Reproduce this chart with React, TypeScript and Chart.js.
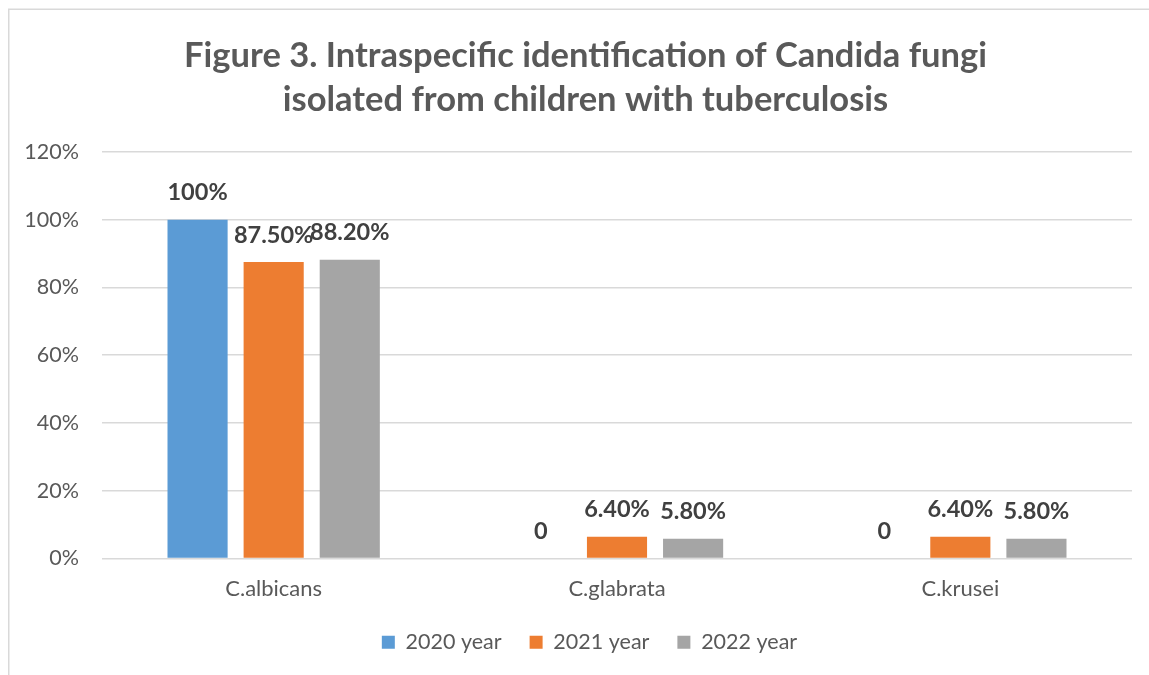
import React, { useEffect, useRef } from "react";
import { Chart, registerables } from "chart.js";

Chart.register(...registerables);

const categories = ["C.albicans", "C.glabrata", "C.krusei"];
const seriesNames = ["2020 year", "2021 year", "2022 year"];
const values2020 = [100, 0, 0];
const values2021 = [87.5, 6.4, 6.4];
const values2022 = [88.2, 5.8, 5.8];
const labels2020 = ["100%", "0", "0"];
const labels2021 = ["87.50%", "6.40%", "6.40%"];
const labels2022 = ["88.20%", "5.80%", "5.80%"];
const titleLines = [
  "Figure 3. Intraspecific identification of Candida fungi",
  "isolated from children with tuberculosis",
];

const FONT = "Lato, 'Open Sans', sans-serif";
const TEXT = "#595959";

const frame = {
  id: "frame",
  beforeDraw(chart: any) {
    const ctx = chart.ctx;
    ctx.save();
    ctx.fillStyle = "#ffffff";
    ctx.fillRect(0, 0, chart.width, chart.height);
    ctx.strokeStyle = "#D9D9D9";
    ctx.lineWidth = 1.5;
    ctx.strokeRect(8.75, 9.25, chart.width + 20, chart.height + 20);
    ctx.restore();
  },
};

const layoutTweaks = {
  id: "layoutTweaks",
  afterLayout(chart: any) {
    if (chart.titleBlock) {
      chart.titleBlock.left = 39;
      chart.titleBlock.right = chart.chartArea.right;
    }
    if (chart.legend) {
      chart.legend.left = 47;
      chart.legend.right = chart.chartArea.right;
    }
    if (chart.scales.x) {
      chart.scales.x._computeLabelArea = () => undefined;
    }
  },
};

const dataLabels = {
  id: "dataLabels",
  afterDatasetsDraw(chart: any) {
    const ctx = chart.ctx;
    ctx.save();
    ctx.font = `bold 23.5px ${FONT}`;
    ctx.fillStyle = "#404040";
    ctx.textAlign = "center";
    ctx.textBaseline = "middle";
    chart.data.datasets.forEach((ds: any, i: number) => {
      const meta = chart.getDatasetMeta(i);
      meta.data.forEach((el: any, j: number) => {
        ctx.fillText(ds.valueLabels[j], el.x, el.y - 27);
      });
    });
    ctx.restore();
  },
};

export default function App() {
  const ref = useRef<HTMLCanvasElement>(null);
  useEffect(() => {
    document.body.style.margin = "0";
    const chart = new Chart(ref.current!, {
      type: "bar",
      data: {
        labels: categories,
        datasets: [
          { label: seriesNames[0], data: values2020, backgroundColor: "#5B9BD5", valueLabels: labels2020 } as any,
          { label: seriesNames[1], data: values2021, backgroundColor: "#ED7D31", valueLabels: labels2021 } as any,
          { label: seriesNames[2], data: values2022, backgroundColor: "#A5A5A5", valueLabels: labels2022 } as any,
        ],
      },
      options: {
        responsive: false,
        animation: false,
        datasets: { bar: { categoryPercentage: 0.665, barPercentage: 0.79 } },
        layout: { padding: { left: 0, right: 17, top: 0, bottom: 12 } },
        plugins: {
          title: {
            display: true,
            text: titleLines,
            color: TEXT,
            font: { family: FONT, size: 34.5, weight: "bold", lineHeight: 1.275 },
            padding: { top: 34, bottom: 30 },
          },
          legend: {
            position: "bottom",
            labels: {
              color: TEXT,
              font: { family: FONT, size: 21.5 },
              boxWidth: 13,
              boxHeight: 13,
              padding: 28,
            },
          },
          tooltip: { enabled: false },
        },
        scales: {
          x: {
            grid: { display: false },
            border: { display: false },
            ticks: { color: TEXT, font: { family: FONT, size: 22 }, padding: 9 },
            afterFit(scale: any) {
              scale.height = 45;
            },
          },
          y: {
            min: 0,
            max: 120,
            grid: { color: "#D9D9D9", lineWidth: 1.5, drawTicks: false },
            border: { display: false },
            ticks: {
              stepSize: 20,
              color: TEXT,
              font: { family: FONT, size: 21.5 },
              padding: 23,
              callback: (v: any) => v + "%",
            },
            afterFit(scale: any) {
              scale.width = 102;
            },
          },
        },
      } as any,
      plugins: [frame, layoutTweaks, dataLabels],
    });
    return () => chart.destroy();
  }, []);
  return <canvas ref={ref} width={1149} height={675} style={{ display: "block" }} />;
}
